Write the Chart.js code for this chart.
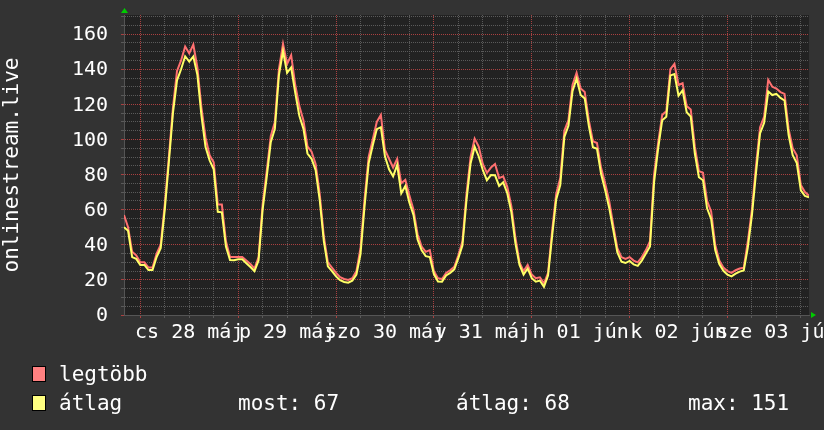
<!DOCTYPE html>
<html>
<head>
<meta charset="utf-8">
<script src="https://cdn.jsdelivr.net/npm/chart.js@4"></script>
<style>
html,body{margin:0;padding:0;background:#333333;}
#wrap{position:relative;width:824px;height:430px;background:#333333;overflow:hidden;}
#c{position:absolute;left:0;top:0;}
.leg{position:absolute;font-family:'DejaVu Sans Mono',monospace;font-size:21px;line-height:24px;color:#ffffff;white-space:pre;}
.sw{position:absolute;width:12px;height:14px;border:1px solid #000000;box-sizing:content-box;}
</style>
</head>
<body>
<div id="wrap">
  <canvas id="c" width="824" height="430"></canvas>
  <div class="sw" style="left:32px;top:366px;background:#ff8080"></div>
  <div class="leg" id="lg1" style="left:59px;top:362px"></div>
  <div class="sw" style="left:32px;top:395px;background:#ffff80"></div>
  <div class="leg" id="lg2" style="left:59px;top:391px"></div>
  <div class="leg" id="st1" style="left:238px;top:391px"></div>
  <div class="leg" id="st2" style="left:456px;top:391px"></div>
  <div class="leg" id="st3" style="left:688px;top:391px"></div>
</div>
<script>
// ---- data (hours relative to midnight of 28 May; one sample per hour) ----
const START_HOUR = -4;
const STEP_HOURS = 1;
const dayLabels = ["cs 28 máj", "p 29 máj", "szo 30 máj", "v 31 máj", "h 01 jún", "k 02 jún", "sze 03 jún"];
const seriesNames = ["legtöbb", "átlag"];
const axisTitle = "onlinestream.live";
const statLabels = ["most: 67", "átlag: 68", "max: 151"];

// átlag (average)
const avgValues = [
  50, 48, 33, 32, 28.5, 28.5, 25.6, 25.6, 33, 38,
  60, 87, 115, 133.7, 140, 147.4, 144.4, 147.3, 136.8, 113.5,
  95.7, 88.1, 83, 58.8, 58.5, 39, 31.3, 31.2, 31.7, 31.7,
  29.5, 27.3, 25, 31, 60, 78.5, 98.5, 106, 136.7, 150.4,
  137.9, 141, 126.5, 113.5, 106.2, 92, 89, 82.5, 65.5, 42.2,
  27.7, 25, 22, 19.8, 18.8, 18.4, 19.5, 23, 34.6, 62,
  86.4, 96.6, 105.9, 107, 90.4, 83, 79, 85.5, 69.3, 73.5,
  64, 57, 43, 36.8, 33.5, 33, 23.3, 19.1, 19, 22.5,
  24, 26, 32.4, 39.5, 65.5, 86.3, 95.9, 90.3, 82.6, 76.8,
  79.7, 79.6, 73.5, 75.6, 69.4, 58.6, 40.8, 28.5, 23, 26.5,
  21, 19, 19.6, 16.1, 22.5, 45, 65.8, 74, 101.5, 107.8,
  127.5, 134.7, 125.3, 123.3, 107.7, 95.6, 94.7, 80.4, 71.2, 61,
  48.4, 35.7, 30.4, 29.6, 30.8, 28.8, 28, 31, 35, 39,
  75.5, 94.8, 111, 113, 136.5, 137.3, 125, 128, 115.5, 113,
  92, 78.5, 76.8, 60.8, 54.7, 37, 29, 25.2, 23, 22,
  23.6, 24.7, 25.4, 38.5, 56.8, 81, 103.5, 109.5, 127.3, 125.3,
  126, 123.7, 122.2, 102.5, 91, 86.6, 71, 67.8, 67
];
// legtöbb (maximum)
const maxValues = [
  57, 50, 36, 34, 30, 30, 27, 27, 35, 40,
  63, 90, 118, 139, 145, 153, 149, 154, 141, 118,
  101, 91, 87, 63, 63, 42, 33, 33, 33, 33,
  31, 29, 26.5, 33, 63, 82, 102, 110, 140, 154.5,
  143, 148, 131, 119, 111, 96, 93, 86, 69, 45,
  30, 27, 24, 21.5, 20.5, 20, 21, 25, 38, 66,
  90, 100, 110, 114, 94, 89, 84, 89, 75, 77,
  68, 60, 46, 39, 36, 37, 25, 21, 20.5, 24,
  25.5, 27.5, 34, 42, 69, 90, 100.5, 96, 86, 81,
  84, 86, 78, 79, 73, 62, 44, 30, 25, 28.5,
  23, 21, 21.5, 18, 24, 48, 69, 78, 105, 111,
  131, 138, 129, 127, 111, 99, 98, 84, 75, 65,
  51, 38, 33, 32, 33, 31, 30, 33, 37, 42,
  80, 98, 114, 116, 140, 143, 131, 132, 119, 117,
  96, 82, 81, 65, 59, 40, 31, 27, 25, 24,
  25.5, 26.5, 27, 42, 60, 85, 107, 113, 134, 130,
  129, 127, 126, 106, 95, 91, 74, 70, 68
];
const X_MIN = -4, X_MAX = 164;
const Y_MIN = 0, Y_MAX = 170.9;
const xTickHours = [0,6,12,18,24,30,36,42,48,54,60,66,72,78,84,90,96,102,108,114,120,126,132,138,144,150,156,162];
const yTickValues = [0,5,10,15,20,25,30,35,40,45,50,55,60,65,70,75,80,85,90,95,100,105,110,115,120,125,130,135,140,145,150,155,160,165,170];

// ---- legend text ----
document.getElementById('lg1').textContent = seriesNames[0];
document.getElementById('lg2').textContent = seriesNames[1];
document.getElementById('st1').textContent = statLabels[0];
document.getElementById('st2').textContent = statLabels[1];
document.getElementById('st3').textContent = statLabels[2];

const FONT = "'DejaVu Sans Mono', monospace";
Chart.defaults.font.family = FONT;
const MINOR = '#5a5a5a';
const MAJOR = '#aa4040';

const toPoints = arr => arr.map((v, i) => ({ x: START_HOUR + i * STEP_HOURS, y: v }));

const decor = {
  id: 'decor',
  beforeDraw(chart) {
    const { ctx, chartArea: a } = chart;
    ctx.save();
    ctx.fillStyle = '#333333';
    ctx.fillRect(0, 0, chart.width, chart.height);
    ctx.fillStyle = '#222222';
    ctx.fillRect(a.left, a.top, a.right - a.left, a.bottom - a.top);
    ctx.restore();
  },
  afterDraw(chart) {
    const { ctx, chartArea: a } = chart;
    ctx.save();
    ctx.fillStyle = '#00cc00';
    ctx.beginPath();
    ctx.moveTo(a.left - 3, a.top - 2);
    ctx.lineTo(a.left + 4, a.top - 2);
    ctx.lineTo(a.left + 0.5, a.top - 7);
    ctx.closePath();
    ctx.fill();
    ctx.beginPath();
    ctx.moveTo(a.right + 2, a.bottom - 3);
    ctx.lineTo(a.right + 2, a.bottom + 3);
    ctx.lineTo(a.right + 7, a.bottom);
    ctx.closePath();
    ctx.fill();
    ctx.restore();
  }
};

new Chart(document.getElementById('c'), {
  type: 'line',
  data: {
    datasets: [
      { label: seriesNames[1], data: toPoints(avgValues), borderColor: '#ffff66', borderWidth: 2,
        pointRadius: 0, tension: 0, fill: false, order: 1 },
      { label: seriesNames[0], data: toPoints(maxValues), borderColor: '#ff7070', borderWidth: 2,
        pointRadius: 0, tension: 0, fill: false, order: 2 }
    ]
  },
  options: {
    responsive: false,
    animation: false,
    devicePixelRatio: 1,
    events: [],
    layout: { padding: { left: 0, right: 15, top: 3, bottom: 0 } },
    plugins: { legend: { display: false }, tooltip: { enabled: false }, title: { display: false } },
    scales: {
      x: {
        type: 'linear', min: X_MIN, max: X_MAX,
        afterBuildTicks: s => { s.ticks = xTickHours.map(v => ({ value: v })); },
        afterFit: s => { s.height = 115; s.paddingLeft = 0; s.paddingRight = 0; },
        grid: {
          color: c => (c.tick && c.tick.value % 24 === 0) ? MAJOR : MINOR,
          tickColor: c => (c.tick && c.tick.value % 24 === 0) ? MAJOR : MINOR,
          lineWidth: 1, drawTicks: true, tickLength: 3
        },
        border: { display: true, color: '#555555', width: 1, dash: [1, 1] },
        ticks: {
          autoSkip: false, maxRotation: 0, minRotation: 0, padding: 3,
          color: '#ffffff', font: { size: 20, family: FONT },
          callback: v => (v % 24 === 12) ? dayLabels[(v - 12) / 24] : ''
        }
      },
      y: {
        type: 'linear', min: Y_MIN, max: Y_MAX,
        afterBuildTicks: s => { s.ticks = yTickValues.map(v => ({ value: v })); },
        afterFit: s => { s.width = 124; s.paddingTop = 15; s.paddingBottom = 12; },
        grid: {
          color: c => (c.tick && c.tick.value % 20 === 0) ? MAJOR : MINOR,
          tickColor: c => (c.tick && c.tick.value % 20 === 0) ? MAJOR : MINOR,
          lineWidth: 1, drawTicks: true, tickLength: 3
        },
        border: { display: true, color: '#555555', width: 1, dash: [1, 1] },
        ticks: {
          autoSkip: false, padding: 13, labelOffset: 1, color: '#ffffff', font: { size: 20, family: FONT },
          callback: v => (v % 20 === 0) ? String(v) : ''
        },
        title: { display: true, text: axisTitle, color: '#ffffff', font: { size: 21, family: FONT }, padding: 0 }
      }
    }
  },
  plugins: [decor]
});
</script>
</body>
</html>
